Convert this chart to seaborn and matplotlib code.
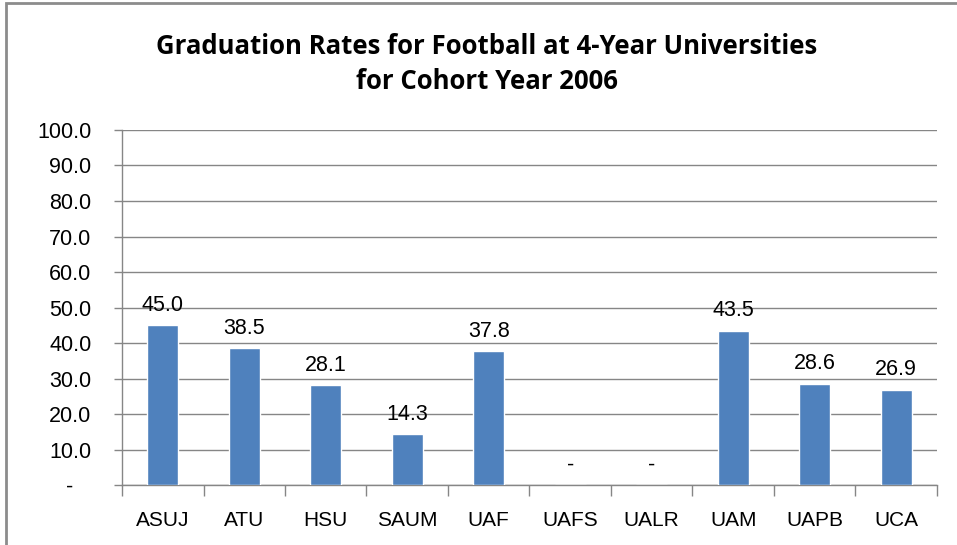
import matplotlib
matplotlib.use("Agg")
import matplotlib.pyplot as plt
import seaborn as sns
import pandas as pd
from matplotlib.patches import Rectangle

schools = ["ASUJ", "ATU", "HSU", "SAUM", "UAF", "UAFS", "UALR", "UAM", "UAPB", "UCA"]
rates = [45.0, 38.5, 28.1, 14.3, 37.8, 0.0, 0.0, 43.5, 28.6, 26.9]
y_ticks = [0, 10, 20, 30, 40, 50, 60, 70, 80, 90, 100]

df = pd.DataFrame({"School": schools, "Rate": rates})

sns.set_theme(style="white")
plt.rcParams["font.family"] = ["Liberation Sans", "DejaVu Sans"]

fig = plt.figure(figsize=(9.57, 5.45), dpi=100)
ax = fig.add_axes([0.1275, 0.110, 0.8515, 0.6515])

sns.barplot(data=df, x="School", y="Rate", color="#4F81BD", width=0.38,
            saturation=1, ax=ax, zorder=3)

ax.set_ylim(0, 100)
ax.set_xlim(-0.5, len(schools) - 0.5)
ax.set_yticks(y_ticks)
ax.set_yticklabels(["-   " if t == 0 else f"{t:.1f}" for t in y_ticks])
ax.yaxis.grid(True, color="#868686", linewidth=1, zorder=0)
ax.set_axisbelow(True)

for i, v in enumerate(rates):
    label = "-" if v == 0 else f"{v:.1f}"
    ax.text(i, v + 2.6, label, ha="center", va="bottom", fontsize=15.5, color="#000000")

ax.set_xlabel("")
ax.set_ylabel("")
ax.tick_params(axis="y", labelsize=15.5, labelcolor="#000000", length=6, width=1,
               direction="out", left=True, pad=16)
ax.tick_params(axis="x", labelsize=15, labelcolor="#000000", length=0, pad=19)
ax.set_xticks([i + 0.5 for i in range(-1, len(schools))], minor=True)
ax.tick_params(axis="x", which="minor", length=8, width=1, color="#868686",
               bottom=True, direction="out")

for side in ["top", "right"]:
    ax.spines[side].set_visible(False)
for side in ["left", "bottom"]:
    ax.spines[side].set_color("#868686")
    ax.spines[side].set_linewidth(1)
ax.tick_params(axis="y", color="#868686")

fig.text(0.509, 0.915, "Graduation Rates for Football at 4-Year Universities",
         ha="center", va="center", fontsize=18.5, fontweight="bold", color="#000000",
         family=["Open Sans", "DejaVu Sans"])
fig.text(0.509, 0.851, "for Cohort Year 2006",
         ha="center", va="center", fontsize=18.5, fontweight="bold", color="#000000",
         family=["Open Sans", "DejaVu Sans"])

fig.patches.append(Rectangle((6 / 957, -0.1), 1.2, 1 - 3 / 545 + 0.1,
                             transform=fig.transFigure, fill=False,
                             edgecolor="#8C8C8C", linewidth=2))

fig.savefig("out.png", dpi=100)
